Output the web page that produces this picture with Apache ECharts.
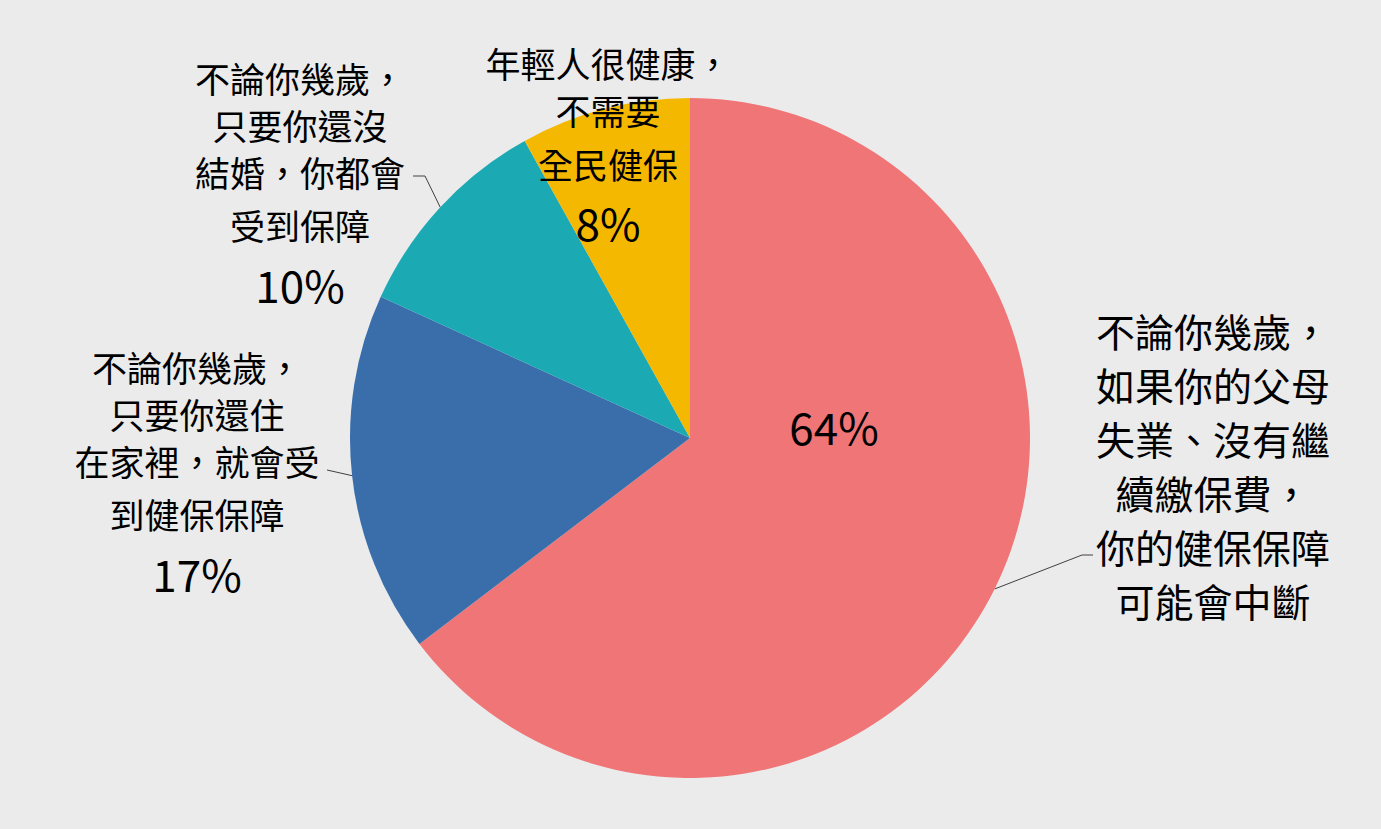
<!DOCTYPE html>
<html>
<head>
<meta charset="utf-8">
<script src="https://cdn.jsdelivr.net/npm/echarts@6/dist/echarts.min.js"></script>
<style>
html,body{margin:0;padding:0;background:#EBEBEB;}
#chart{width:1381px;height:829px;}
</style>
</head>
<body>
<div id="chart"></div>
<script>
// ---- data ----
const categories = [
  '不論你幾歲，\n如果你的父母\n失業、沒有繼\n續繳保費，\n你的健保保障\n可能會中斷',
  '不論你幾歲，\n只要你還住\n在家裡，就會受\n到健保保障',
  '不論你幾歲，\n只要你還沒\n結婚，你都會\n受到保障',
  '年輕人很健康，\n不需要\n全民健保'
];
const values = [64, 17, 10, 8];
const colors = ['#F07577', '#3A6EAB', '#1BA9B3', '#F5B800'];

// ---- layout (label placement) ----
const FONT = '"Noto Sans CJK TC", "Noto Sans", sans-serif';
const LABEL_POS = [
  { x: 1213, y: 465, line: [[1082, 555], [1093, 555]] },
  { x: 197, y: 472, line: [[327, 470]] },
  { x: 300, y: 183, line: [[425, 176], [413, 176]] },
  { x: 608, y: 145, line: null }
];
const PCT_POS = { x: 834, y: 426 };

function catFormatter(p) {
  const lines = p.name.split('\n');
  if (p.dataIndex === 0) {
    return lines.map(l => '{pk|' + l + '}').join('\n');
  }
  const out = lines.map((l, i) => (i === lines.length - 1 ? '{t2|' : '{t|') + l + '}');
  out.push('{p|' + p.value + '%}');
  return out.join('\n');
}

const chart = echarts.init(document.getElementById('chart'), null, { renderer: 'svg' });

const mainData = categories.map((name, i) => ({
  name: name,
  value: values[i],
  itemStyle: { color: colors[i] },
  labelLine: { show: i !== 3 }
}));

const pctData = categories.map((name, i) => ({
  name: name,
  value: values[i],
  itemStyle: { color: 'rgba(0,0,0,0)' },
  label: { show: i === 0 }
}));

chart.setOption({
  backgroundColor: '#EBEBEB',
  animation: false,
  series: [
    {
      type: 'pie',
      center: [690, 438],
      radius: 340,
      startAngle: 90,
      clockwise: true,
      avoidLabelOverlap: false,
      silent: true,
      emphasis: { disabled: true },
      data: mainData,
      label: {
        show: true,
        position: 'outside',
        formatter: catFormatter,
        color: '#000',
        fontFamily: FONT,
        rich: {
          pk: { fontSize: 39, lineHeight: 54, align: 'center', color: '#000', fontFamily: FONT },
          t: { fontSize: 35, lineHeight: 47, align: 'center', color: '#000', fontFamily: FONT },
          t2: { fontSize: 35, lineHeight: 60, align: 'center', color: '#000', fontFamily: FONT },
          p: { fontSize: 44, lineHeight: 58, align: 'center', color: '#000', fontFamily: FONT }
        }
      },
      labelLine: {
        show: true,
        length: 20,
        length2: 12,
        lineStyle: { color: '#404040', width: 1 }
      },
      labelLayout: function (p) {
        const L = LABEL_POS[p.dataIndex];
        const out = { x: L.x, y: L.y, align: 'center', verticalAlign: 'middle' };
        if (L.line && p.labelLinePoints) {
          out.labelLinePoints = [p.labelLinePoints[0]].concat(L.line);
        }
        return out;
      }
    },
    {
      type: 'pie',
      center: [690, 438],
      radius: 340,
      startAngle: 90,
      clockwise: true,
      avoidLabelOverlap: false,
      silent: true,
      emphasis: { disabled: true },
      data: pctData,
      label: {
        show: false,
        position: 'inside',
        formatter: '{c}%',
        color: '#000',
        fontFamily: FONT,
        fontSize: 44
      },
      labelLine: { show: false },
      labelLayout: function () {
        return { x: PCT_POS.x, y: PCT_POS.y, align: 'center', verticalAlign: 'middle' };
      }
    }
  ]
});
</script>
</body>
</html>
